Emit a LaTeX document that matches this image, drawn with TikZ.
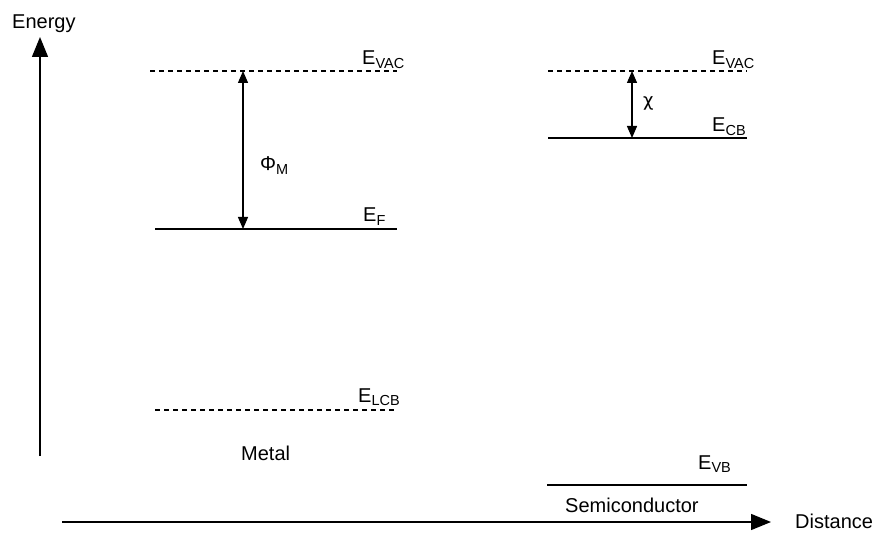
\documentclass[tikz,border=0pt]{standalone}
\usepackage{fontspec}
\setmainfont{Liberation Sans}
\newfontfamily\chifont{DejaVu Sans}
\usetikzlibrary{arrows.meta}
\newcommand{\lsub}[1]{\raisebox{-3.5pt}{\fontsize{14.5}{14.5}\selectfont #1}}
\begin{document}
\begin{tikzpicture}[x=1pt,y=-1pt,
  lbl/.style={anchor=base west,inner sep=0pt,font=\fontsize{20}{23}\selectfont},
  level/.style={line width=1.3pt},
  vaclevel/.style={line width=1.1pt,dash pattern=on 5pt off 4pt},
  axis/.style={line width=1.4pt,-{Triangle[length=20pt,width=16pt]}},
  gap/.style={line width=1.3pt,{Triangle[length=12pt,width=10pt]}-{Triangle[length=12pt,width=10pt]}}]
\useasboundingbox (0,0) rectangle (874,534);
% axes
\coordinate (yb) at (40,456);
\coordinate (yt) at (40,37);
\coordinate (xl) at (62,522);
\coordinate (xr) at (771,522);
\draw[axis] (yb) -- (yt);
\draw[axis] (xl) -- (xr);
\node[lbl] (energy) at (12,29) {Energy};
\node[lbl] (distance) at (795,528) {Distance};
% metal
\coordinate (mv1) at (150,71);
\coordinate (mv2) at (397,71);
\coordinate (mf1) at (155,229);
\coordinate (mf2) at (397,229);
\coordinate (ml1) at (155,410);
\coordinate (ml2) at (397,410);
\draw[vaclevel] (mv1) -- (mv2);
\draw[level] (mf1) -- (mf2);
\draw[vaclevel] (ml1) -- (ml2);
\coordinate (phit) at (243,71);
\coordinate (phib) at (243,229);
\draw[gap] (phit) -- (phib);
\node[lbl] (mvac) at (362,65) {E\lsub{VAC}};
\node[lbl] (ef) at (363,222) {E\lsub{F}};
\node[lbl] (phi) at (260,171) {Φ\lsub{M}};
\node[lbl] (elcb) at (358,402) {E\lsub{LCB}};
\node[lbl] (metal) at (241,460) {Metal};
% semiconductor
\coordinate (sv1) at (548,71);
\coordinate (sv2) at (747,71);
\coordinate (sc1) at (548,138);
\coordinate (sc2) at (747,138);
\coordinate (sb1) at (547,485);
\coordinate (sb2) at (747,485);
\draw[vaclevel] (sv1) -- (sv2);
\draw[level] (sc1) -- (sc2);
\draw[level] (sb1) -- (sb2);
\coordinate (chit) at (632,71);
\coordinate (chib) at (632,138);
\draw[gap] (chit) -- (chib);
\node[lbl] (svac) at (712,65) {E\lsub{VAC}};
\node[lbl,font=\chifont\fontsize{18}{20}\selectfont] (chi) at (643,107) {χ};
\node[lbl] (ecb) at (712,132) {E\lsub{CB}};
\node[lbl] (evb) at (698,469) {E\lsub{VB}};
\node[lbl] (semi) at (565,512) {Semiconductor};
\end{tikzpicture}
\end{document}
